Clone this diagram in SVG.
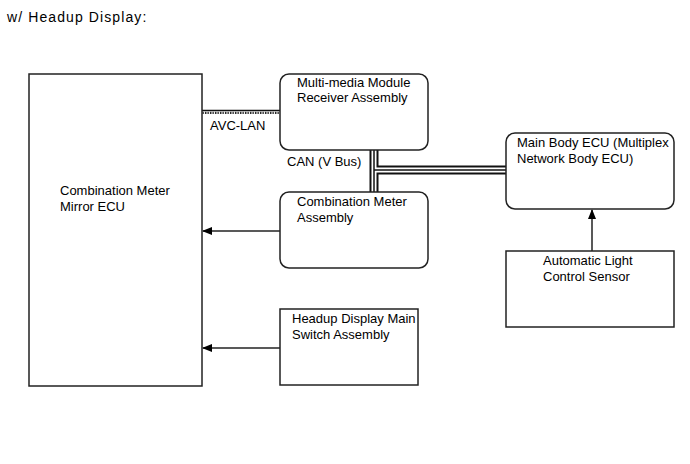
<svg xmlns="http://www.w3.org/2000/svg" width="690" height="464" viewBox="0 0 690 464">
<defs>
<style>
.box{fill:#fff;stroke:#222;stroke-width:1.5}
.t{font-family:"Liberation Sans",Arial,sans-serif;font-size:13px;fill:#000}
.title{font-family:"Liberation Sans",Arial,sans-serif;font-size:14px;letter-spacing:1.1px;fill:#000}
.ln{stroke:#222;stroke-width:1.5;fill:none}
</style>
<marker id="ah" markerWidth="10" markerHeight="8" refX="9" refY="4" orient="auto" markerUnits="userSpaceOnUse">
<path d="M0,0 L10,4 L0,8 Z" fill="#000"/>
</marker>
<pattern id="hatch" width="2.5" height="4" patternUnits="userSpaceOnUse">
<rect width="2.5" height="4" fill="#fff"/>
<rect x="0" y="0" width="1.4" height="3.2" fill="#222"/>
</pattern>
</defs>
<rect width="690" height="464" fill="#fff"/>
<text class="title" x="7" y="22">w/ Headup Display:</text>

<g id="connectors">
<rect x="202" y="110" width="78" height="4" fill="url(#hatch)"/>
<line x1="202" y1="110.5" x2="280" y2="110.5" stroke="#111" stroke-width="1.5"/>
<path d="M374,150 V192 M374,170 H506" stroke="#111" stroke-width="9" fill="none"/>
<path d="M374,150 V192 M374,170 H506" stroke="#fff" stroke-width="5" fill="none"/>
<path d="M374,150 V192 M374,170 H506" stroke="#111" stroke-width="1.5" fill="none"/>
<line class="ln" x1="280" y1="231" x2="203" y2="231" marker-end="url(#ah)"/>
<line class="ln" x1="280" y1="348" x2="203" y2="348" marker-end="url(#ah)"/>
<line class="ln" x1="592" y1="251" x2="592" y2="210" marker-end="url(#ah)"/>
<text class="t" x="210" y="130">AVC-LAN</text>
<text class="t" x="287" y="166">CAN (V Bus)</text>
</g>

<g id="mirror-ecu">
<rect class="box" x="29" y="74" width="173" height="312"/>
<text class="t" x="60" y="195">Combination Meter</text>
<text class="t" x="60" y="211">Mirror ECU</text>
</g>

<g id="multimedia">
<rect class="box" x="280" y="74" width="148" height="76" rx="9"/>
<text class="t" x="297" y="87">Multi-media Module</text>
<text class="t" x="297" y="102">Receiver Assembly</text>
</g>

<g id="combination-meter">
<rect class="box" x="280" y="192" width="148" height="76" rx="9"/>
<text class="t" x="297" y="206">Combination Meter</text>
<text class="t" x="297" y="222">Assembly</text>
</g>

<g id="headup-switch">
<rect class="box" x="280" y="309" width="138" height="76"/>
<text class="t" x="292" y="323">Headup Display Main</text>
<text class="t" x="292" y="339">Switch Assembly</text>
</g>

<g id="main-body-ecu">
<rect class="box" x="506" y="133" width="168" height="76" rx="9"/>
<text class="t" x="517" y="147">Main Body ECU (Multiplex</text>
<text class="t" x="517" y="163">Network Body ECU)</text>
</g>

<g id="light-sensor">
<rect class="box" x="506" y="251" width="168" height="76"/>
<text class="t" x="543" y="265">Automatic Light</text>
<text class="t" x="543" y="281">Control Sensor</text>
</g>
</svg>
